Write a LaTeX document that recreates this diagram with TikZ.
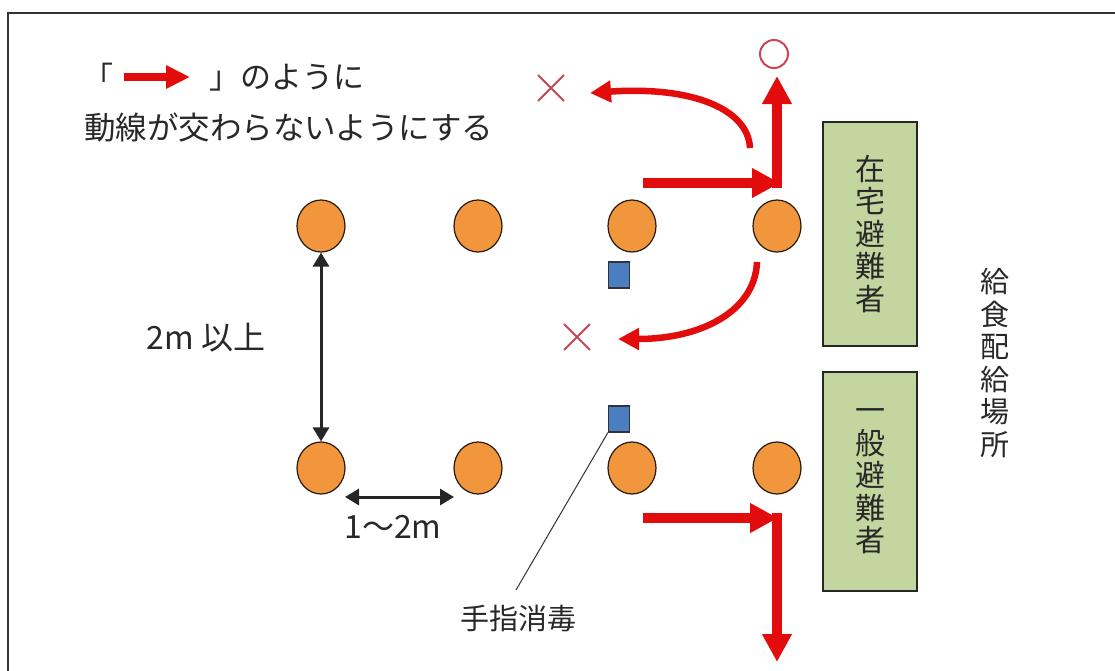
\documentclass[tikz,border=0pt]{standalone}
\usepackage{fontspec}
\newfontfamily\cjk{Noto Sans CJK JP}
\usetikzlibrary{arrows.meta,shapes.geometric,shapes.misc}
\definecolor{arrred}{RGB}{226,12,12}
\definecolor{seatorange}{RGB}{242,150,62}
\definecolor{boxgreen}{RGB}{196,214,160}
\definecolor{sqblue}{RGB}{74,126,192}
\definecolor{markred}{RGB}{200,70,85}
\definecolor{txt}{RGB}{40,40,40}
\tikzset{
  seat/.style={ellipse,draw=black!80!brown,line width=1.2pt,fill=seatorange,minimum width=48pt,minimum height=52pt,inner sep=0pt},
  sanit/.style={rectangle,draw=black!80,line width=1.2pt,fill=sqblue,minimum width=21pt,minimum height=26pt,inner sep=0pt},
  gbox/.style={rectangle,draw=black!85,line width=1.5pt,fill=boxgreen,minimum width=94pt,inner sep=0pt,align=center,text=txt,font=\cjk\fontsize{30}{32.5}\selectfont},
  vtext/.style={align=center,text=txt,font=\cjk\fontsize{29}{32.5}\selectfont,inner sep=0pt},
  lbl/.style={text=txt,inner sep=0pt},
  redstraight/.style={draw=arrred,line width=10pt,-{Triangle[length=28pt,width=28pt]}},
  redcurve/.style={draw=arrred,line width=6.5pt,-{Triangle[length=21pt,width=21pt]}},
  dimarrow/.style={draw=black!85,line width=3pt,{Triangle[length=14pt,width=16pt]}-{Triangle[length=14pt,width=16pt]}},
  xmark/.style={cross out,draw=markred,line width=1.8pt,minimum width=24pt,minimum height=24pt,inner sep=0pt},
  omark/.style={circle,draw=markred,line width=2pt,minimum size=28pt,inner sep=0pt},
  frame/.style={draw=black!80,line width=2pt}
}
\begin{document}
\begin{tikzpicture}[x=1pt,y=-1pt]
\useasboundingbox (0,0) rectangle (1115,670);
\clip (0,0) rectangle (1115,670);
\fill[white] (0,0) rectangle (1115,670);
\draw[frame] (8,13) rectangle (1130,690);

% legend
\node[lbl,font=\cjk\fontsize{30}{32}\selectfont] (lb) at (98,76) {「};
\node[lbl,font=\cjk\fontsize{31}{32}\selectfont,anchor=west] (legtxt) at (209,78) {」のように};
\coordinate (la) at (124,77);
\coordinate (lz) at (190,77);
\draw[draw=arrred,line width=8pt,-{Triangle[length=24pt,width=22pt]}] (la) -- (lz);
\node[lbl,font=\cjk\fontsize{31.5}{32}\selectfont,anchor=west] (rule) at (84,128) {動線が交わらないようにする};

% seats
\node[seat] (s11) at (321,226) {};
\node[seat] (s12) at (478,226) {};
\node[seat] (s13) at (632,226) {};
\node[seat] (s14) at (777,226) {};
\node[seat] (s21) at (321,468) {};
\node[seat] (s22) at (478,468) {};
\node[seat] (s23) at (632,468) {};
\node[seat] (s24) at (777,468) {};

% sanitizer
\node[sanit] (q1) at (619,275) {};
\node[sanit] (q2) at (619,419) {};
\node[lbl,font=\cjk\fontsize{29}{30}\selectfont] (hand) at (518,618) {手指消毒};
\coordinate (handtop) at (516,590);
\draw[black!80,line width=1pt] (q2.south west) -- (handtop);

% dimensions
\draw[dimarrow] (s11.south) -- (s21.north);
\node[lbl,font=\cjk\fontsize{32}{34}\selectfont] (d1) at (206,338) {2m 以上};
\coordinate (h1) at (345,497);
\coordinate (h2) at (454,497);
\draw[dimarrow] (h1) -- (h2);
\node[lbl,font=\cjk\fontsize{32}{34}\selectfont] (d2) at (393,527) {1～2m};

% boxes
\node[gbox,minimum height=224pt] (home) at (870,234) {在\\宅\\避\\難\\者};
\node[gbox,minimum height=219pt] (gen) at (870,481.5) {一\\般\\避\\難\\者};
\node[vtext] (place) at (995,363) {給\\食\\配\\給\\場\\所};

% marks
\node[omark] (ok) at (774,54) {};
\node[xmark] (ng1) at (551,88) {};
\node[xmark] (ng2) at (577,337) {};

% red flows
\coordinate (a1s) at (643,183);
\coordinate (a1e) at (780,183);
\coordinate (a2s) at (777,188);
\coordinate (a2e) at (777,76);
\draw[redstraight] (a1s) -- (a1e);
\draw[redstraight] (a2s) -- (a2e);

\coordinate (c1s) at (750,148);
\coordinate (c1e) at (590,93);
\draw[redcurve] (c1s) .. controls (748,108) and (690,86) .. (c1e);
\coordinate (c2s) at (757,262);
\coordinate (c2e) at (618,339);
\draw[redcurve] (c2s) .. controls (755,312) and (700,339) .. (c2e);

\coordinate (b1s) at (643,518);
\coordinate (b1e) at (778,518);
\coordinate (b2s) at (777,513);
\coordinate (b2e) at (777,662);
\draw[redstraight] (b1s) -- (b1e);
\draw[redstraight] (b2s) -- (b2e);
\end{tikzpicture}
\end{document}
